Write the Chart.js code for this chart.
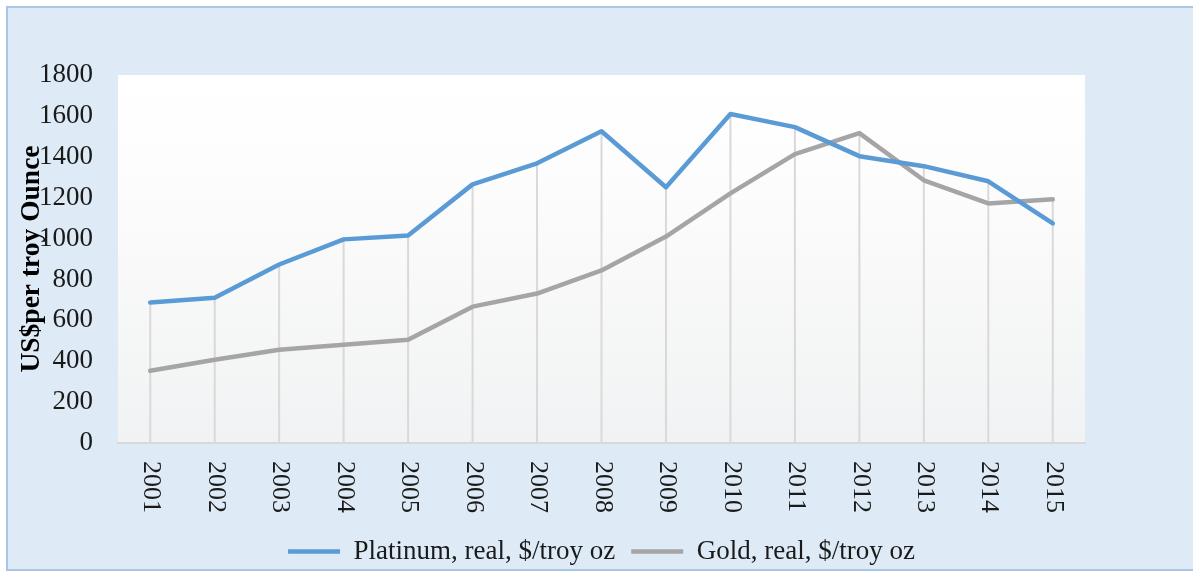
<!DOCTYPE html>
<html>
<head>
<meta charset="utf-8">
<title>Platinum and gold, real prices 2001-2015</title>
<script src="https://cdn.jsdelivr.net/npm/chart.js@4.4.1/dist/chart.umd.min.js"></script>
<style>
    html, body { margin: 0; padding: 0; background: #ffffff; overflow: hidden; }
    #wrap { width: 1193px; height: 572px; }
</style>
</head>
<body>
<div id="wrap"><canvas id="priceChart" width="1193" height="572"></canvas></div>
<script>
// ==== DONNEES ====
const years = ['2001', '2002', '2003', '2004', '2005', '2006', '2007', '2008',
               '2009', '2010', '2011', '2012', '2013', '2014', '2015'];
const platinum = [687, 711, 873, 996, 1015, 1265, 1368, 1525, 1251, 1609, 1545, 1403, 1354, 1280, 1074];
const gold = [353, 407, 456, 481, 505, 667, 731, 844, 1010, 1221, 1413, 1516, 1285, 1172, 1192];
const yMin = 0;
const yMax = 1800;
const yStep = 200;

const SERIF = "'Liberation Serif', 'Times New Roman', serif";
const TEXT = '#1a1a1a';

// ==== PLUGINS ====

// Fond bleu du cadre + degrade de la zone de tracé
const frameBackground = {
    id: 'frameBackground',
    beforeDraw(chart) {
        const ctx = chart.ctx;
        const a = chart.chartArea;
        ctx.save();
        ctx.fillStyle = '#ffffff';
        ctx.fillRect(0, 0, chart.width, chart.height);
        ctx.fillStyle = '#deebf6';
        ctx.fillRect(7, 7, chart.width, 563);
        ctx.strokeStyle = '#aac5e8';
        ctx.lineWidth = 2;
        ctx.beginPath();
        ctx.moveTo(chart.width + 2, 7);
        ctx.lineTo(7, 7);
        ctx.lineTo(7, 570);
        ctx.lineTo(chart.width + 2, 570);
        ctx.stroke();

        const g = ctx.createLinearGradient(0, a.top, 0, a.bottom);
        g.addColorStop(0, '#ffffff');
        g.addColorStop(0.25, '#fdfdfd');
        g.addColorStop(1, '#f1f2f3');
        ctx.fillStyle = g;
        ctx.fillRect(a.left, a.top, a.right - a.left, a.bottom - a.top);
        ctx.restore();
    }
};

// Lignes de projection (du point le plus haut jusqu'a l'axe)
const dropLines = {
    id: 'dropLines',
    beforeDatasetsDraw(chart) {
        const { ctx, scales: { x, y } } = chart;
        ctx.save();
        ctx.strokeStyle = '#d9d9d9';
        ctx.lineWidth = 2;
        years.forEach((yr, i) => {
            const px = x.getPixelForValue(i);
            ctx.beginPath();
            ctx.moveTo(px, y.getPixelForValue(Math.max(platinum[i], gold[i])));
            ctx.lineTo(px, y.getPixelForValue(yMin));
            ctx.stroke();
        });
        ctx.restore();
    }
};

// Etiquettes d'annees tournees dans le sens horaire (lecture de haut en bas)
function rotateYearLabels(scale) {
    if (scale._clockwise) return;
    const orig = scale._computeLabelItems.bind(scale);
    scale._computeLabelItems = function(chartArea) {
        const items = orig(chartArea);
        items.forEach((item, i) => {
            item.textOffset = 0;
            item.options.rotation = Math.PI / 2;
            item.options.textAlign = 'left';
            item.options.textBaseline = 'middle';
            item.options.translation = [scale.getPixelForTick(i) + 1, scale.top + 18];
        });
        return items;
    };
    scale._clockwise = true;
}

// ==== GRAPHIQUE ====
new Chart(document.getElementById('priceChart'), {
    type: 'line',
    data: {
        labels: years,
        datasets: [{
            label: 'Platinum, real, $/troy oz',
            data: platinum,
            borderColor: '#5b9bd5',
            backgroundColor: '#5b9bd5',
            borderWidth: 4.5,
            pointRadius: 0,
            tension: 0,
            borderJoinStyle: 'round',
            borderCapStyle: 'round'
        }, {
            label: 'Gold, real, $/troy oz',
            data: gold,
            borderColor: '#a5a5a5',
            backgroundColor: '#a5a5a5',
            borderWidth: 4.5,
            pointRadius: 0,
            tension: 0,
            borderJoinStyle: 'round',
            borderCapStyle: 'round'
        }]
    },
    options: {
        responsive: false,
        animation: false,
        devicePixelRatio: 1,
        layout: {
            padding: { left: 10, right: 108, top: 75, bottom: -3 }
        },
        plugins: {
            tooltip: { enabled: false },
            legend: {
                position: 'bottom',
                fullSize: false,
                labels: {
                    usePointStyle: true,
                    pointStyle: 'line',
                    pointStyleWidth: 52,
                    padding: 16,
                    color: TEXT,
                    font: { family: SERIF, size: 27 }
                }
            }
        },
        scales: {
            x: {
                offset: true,
                grid: { display: false, drawTicks: false },
                border: { display: true, color: '#d9d9d9', width: 2 },
                ticks: {
                    autoSkip: false,
                    minRotation: 90,
                    maxRotation: 90,
                    color: TEXT,
                    font: { family: SERIF, size: 26 }
                },
                afterFit(scale) {
                    scale.height = 79;
                    rotateYearLabels(scale);
                }
            },
            y: {
                min: yMin,
                max: yMax,
                grid: { display: false, drawTicks: false, tickLength: 0 },
                border: { display: false },
                ticks: {
                    stepSize: yStep,
                    padding: 25,
                    color: TEXT,
                    font: { family: SERIF, size: 27 },
                    callback: value => String(value)
                },
                title: {
                    display: true,
                    text: 'US$per troy Ounce',
                    color: '#000000',
                    padding: { top: 5, bottom: 0 },
                    font: { family: SERIF, size: 27.5, weight: 'bold' }
                },
                afterFit(scale) {
                    scale.width = 108;
                }
            }
        }
    },
    plugins: [frameBackground, dropLines]
});
</script>
</body>
</html>
